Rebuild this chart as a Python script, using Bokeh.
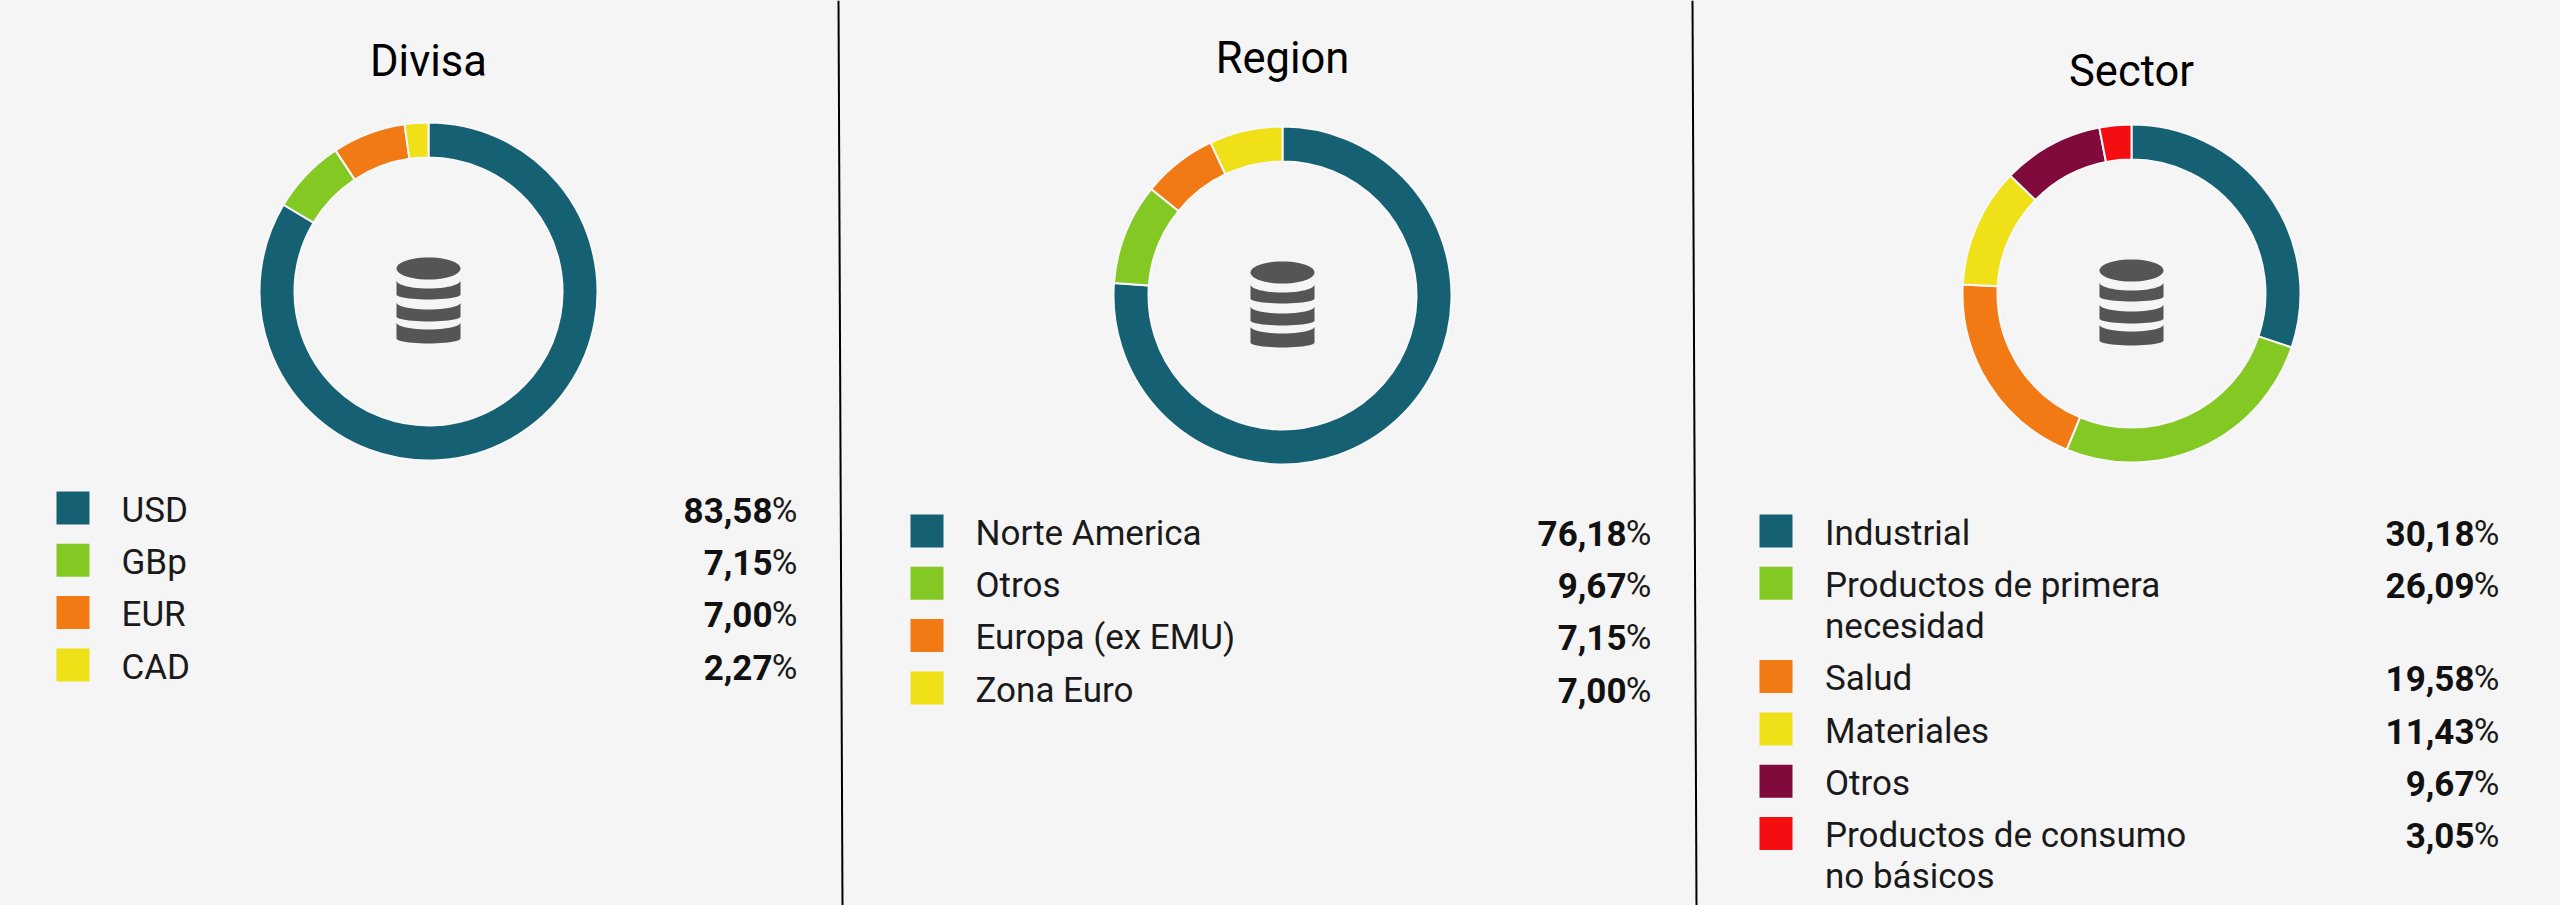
import math
from bokeh.core.properties import value
from bokeh.embed import file_html
from bokeh.models import ColumnDataSource, GlobalInlineStyleSheet, Range1d
from bokeh.plotting import figure
from bokeh.resources import INLINE

# ---------- data ----------
divisa_labels = ["USD", "GBp", "EUR", "CAD"]
divisa_values = [83.58, 7.15, 7.00, 2.27]
region_labels = ["Norte America", "Otros", "Europa (ex EMU)", "Zona Euro"]
region_values = [76.18, 9.67, 7.15, 7.00]
sector_labels = ["Industrial", "Productos de primera\nnecesidad", "Salud", "Materiales", "Otros",
                 "Productos de consumo\nno básicos"]
sector_values = [30.18, 26.09, 19.58, 11.43, 9.67, 3.05]

TEAL, GREEN, ORANGE, YELLOW, MAROON, RED = "#156073", "#84C823", "#F27A15", "#F0E018", "#7F0A3B", "#F40E12"
divisa_colors = [TEAL, GREEN, ORANGE, YELLOW]
region_colors = [TEAL, GREEN, ORANGE, YELLOW]
sector_colors = [TEAL, GREEN, ORANGE, YELLOW, MAROON, RED]

# ---------- layout ----------
W, H = 2560, 905
BG = "#F5F5F5"
FONT = value("Roboto")
panels = [
    dict(title="Divisa", labels=divisa_labels, values=divisa_values, colors=divisa_colors,
         cx=428, cy=291, title_y=78, sw=56, tx=121, vr=797, top=491),
    dict(title="Region", labels=region_labels, values=region_values, colors=region_colors,
         cx=1282, cy=295, title_y=75, sw=910, tx=975, vr=1651, top=514),
    dict(title="Sector", labels=sector_labels, values=sector_values, colors=sector_colors,
         cx=2131, cy=293, title_y=88, sw=1759, tx=1824.5, vr=2499, top=514),
]
dividers = [(838, 842), (1692, 1696)]
R_OUT, R_IN = 169, 134
ROW, EXTRA = 52.3, 41
SW = 33
TXT = 35
TITLE = 43.5
PCT_W = 25
BASE_SHIFT = 0.38  # the svg text sits this many ems under the requested baseline

p = figure(width=W, height=H, x_range=Range1d(0, W), y_range=Range1d(0, H), toolbar_location=None,
           output_backend="svg", min_border=0, background_fill_color=BG, border_fill_color=BG,
           outline_line_color=None)
p.axis.visible = False
p.grid.visible = False
p.stylesheets = [GlobalInlineStyleSheet(css=f"html,body{{margin:0;padding:0;background:{BG};overflow:hidden}}")]


def Y(v):
    return H - v


def TY(v, size):
    return Y(v - BASE_SHIFT * size)


p.segment([d[0] for d in dividers], [Y(0)] * 2, [d[1] for d in dividers], [Y(H)] * 2,
          line_color="#000000", line_width=2)


def draw_icon(cx, cy):
    xs, ys = [], []
    pts = [(cx + 32 * math.cos(2 * math.pi * i / 48), cy - 23 + 11 * math.sin(2 * math.pi * i / 48)) for i in range(48)]
    xs.append([a for a, _ in pts]); ys.append([Y(b) for _, b in pts])
    # three curved bands (top side, top sag, bottom side, bottom sag), offsets from the ring centre
    for ts, tsag, bs, bsag in [(-11, 8, 3, 5), (11, 7, 25, 5), (31, 7, 47, 5)]:
        upper = [(cx + 32 * math.cos(math.pi * i / 24), cy + ts + tsag * math.sin(math.pi * i / 24)) for i in range(25)]
        lower = [(cx - 32 * math.cos(math.pi * i / 24), cy + bs + bsag * math.sin(math.pi * i / 24)) for i in range(25)]
        pts = upper + lower
        xs.append([a for a, _ in pts]); ys.append([Y(b) for _, b in pts])
    p.patches(xs, ys, fill_color="#555555", line_color=None)


for pan in panels:
    vals = pan["values"]
    total = sum(vals)
    ends, starts, run = [], [], 0.0
    for v in vals:
        starts.append(math.pi / 2 - 2 * math.pi * run / total)
        run += v
        ends.append(math.pi / 2 - 2 * math.pi * run / total)
    src = ColumnDataSource(dict(start=ends, end=starts, color=pan["colors"]))
    p.annular_wedge(x=pan["cx"], y=Y(pan["cy"]), inner_radius=R_IN, outer_radius=R_OUT,
                    start_angle="start", end_angle="end", fill_color="color",
                    line_color="#F8F8F8", line_width=2, source=src)
    draw_icon(pan["cx"], pan["cy"])
    p.text([pan["cx"]], [TY(pan["title_y"], TITLE)], text=[pan["title"]], text_font=FONT,
           text_font_size=f"{TITLE}px", text_color="#000000", text_align="center", text_baseline="alphabetic")

    y = pan["top"]
    for lab, v, col in zip(pan["labels"], vals, pan["colors"]):
        p.quad(left=[pan["sw"]], right=[pan["sw"] + SW], top=[Y(y)], bottom=[Y(y + SW)], fill_color=col, line_color=None)
        lines = lab.split("\n")
        for i, ln in enumerate(lines):
            p.text([pan["tx"]], [TY(y + 32 + i * EXTRA, TXT)], text=[ln], text_font=FONT, text_font_size=f"{TXT}px",
                   text_color="#1A1A1A", text_align="left", text_baseline="alphabetic")
        num = f"{v:.2f}".replace(".", ",")
        p.text([pan["vr"] - PCT_W], [TY(y + 32, TXT)], text=[num], text_font=FONT, text_font_size=f"{TXT}px",
               text_font_style="bold", text_color="#111111", text_align="right", text_baseline="alphabetic")
        p.text([pan["vr"]], [TY(y + 32, TXT)], text=["%"], text_font=FONT, text_font_size=f"{TXT}px",
               text_color="#1A1A1A", text_align="right", text_baseline="alphabetic")
        y += ROW + (len(lines) - 1) * EXTRA

open("out.html", "w").write(file_html(p, INLINE))
